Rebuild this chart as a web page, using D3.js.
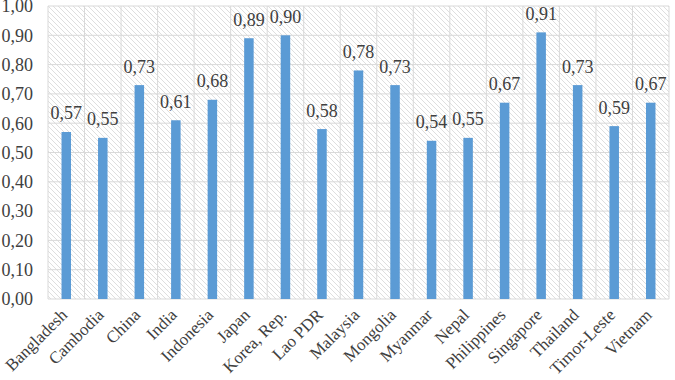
<!DOCTYPE html>
<html>
<head>
<meta charset="utf-8">
<script src="https://cdn.jsdelivr.net/npm/d3@7"></script>
<style>
  html,body{margin:0;padding:0;background:#fff;}
  svg{display:block;}
  svg text{font-family:'Liberation Serif','Times New Roman',serif;}
</style>
</head>
<body>
<svg id="chart" width="675" height="380"></svg>
<script>
/* data */
var countries=['Bangladesh','Cambodia','China','India','Indonesia','Japan','Korea, Rep.','Lao PDR','Malaysia','Mongolia','Myanmar','Nepal','Philippines','Singapore','Thailand','Timor-Leste','Vietnam'];
var scores=[0.57,0.55,0.73,0.61,0.68,0.89,0.90,0.58,0.78,0.73,0.54,0.55,0.67,0.91,0.73,0.59,0.67];
var yTicks=[0,0.1,0.2,0.3,0.4,0.5,0.6,0.7,0.8,0.9,1.0];

var W=675, H=380, ML=48, MR=6, MT=6, MB=81;
var svg=d3.select('#chart');
var pw=W-ML-MR, ph=H-MT-MB;
var FS=18;
var fmt=function(v){return v.toFixed(2).replace('.',',');};

// hatch fill for plot background
var defs=svg.append('defs');
var pat=defs.append('pattern').attr('id','hatch').attr('patternUnits','userSpaceOnUse')
  .attr('width',5).attr('height',5);
pat.append('path').attr('d','M-1,-1 L6,6 M-1,4 L1,6 M4,-1 L6,1')
  .attr('stroke','#d6d6d6').attr('stroke-width',0.8);

var g=svg.append('g').attr('transform','translate('+ML+','+MT+')');
var x=d3.scaleBand().domain(countries).range([0,pw]).paddingInner(0).paddingOuter(0);
var y=d3.scaleLinear().domain([0,1]).range([ph,0]);

g.append('rect').attr('width',pw).attr('height',ph).attr('fill','url(#hatch)');

// horizontal gridlines
g.selectAll('.hg').data(yTicks).enter().append('line')
  .attr('x1',0).attr('x2',pw)
  .attr('y1',function(d){return y(d);}).attr('y2',function(d){return y(d);})
  .attr('stroke','#d9d9d9').attr('stroke-width',1);

// vertical gridlines at category boundaries
var bounds=countries.map(function(c){return x(c);}).concat([pw]);
g.selectAll('.vg').data(bounds).enter().append('line')
  .attr('x1',function(d){return d;}).attr('x2',function(d){return d;})
  .attr('y1',0).attr('y2',ph)
  .attr('stroke','#d9d9d9').attr('stroke-width',1);

// y tick labels
g.selectAll('.yt').data(yTicks).enter().append('text')
  .attr('x',-15).attr('y',function(d){return y(d);}).attr('dy','0.35em')
  .attr('text-anchor','end').attr('font-size',FS)
  .attr('fill','#404040').text(fmt);

// bars
var bw=9.5;
g.selectAll('.bar').data(scores).enter().append('rect')
  .attr('x',function(d,i){return x(countries[i])+x.bandwidth()/2-bw/2;})
  .attr('y',function(d){return y(d);})
  .attr('width',bw).attr('height',function(d){return ph-y(d);})
  .attr('fill','#5b9bd5');

// value labels
g.selectAll('.vl').data(scores).enter().append('text')
  .attr('x',function(d,i){return x(countries[i])+x.bandwidth()/2;})
  .attr('y',function(d){return y(d)-12.5;})
  .attr('text-anchor','middle').attr('font-size',FS)
  .attr('fill','#404040').text(fmt);

// x category labels, rotated
g.selectAll('.xl').data(countries).enter().append('text')
  .attr('transform',function(d){return 'translate('+(x(d)+x.bandwidth()/2-6.4)+','+(ph+8.6)+') rotate(-45)';})
  .attr('text-anchor','end').attr('dy','0.7em')
  .attr('font-size',17)
  .attr('fill','#404040').text(function(d){return d;});
</script>
</body>
</html>
